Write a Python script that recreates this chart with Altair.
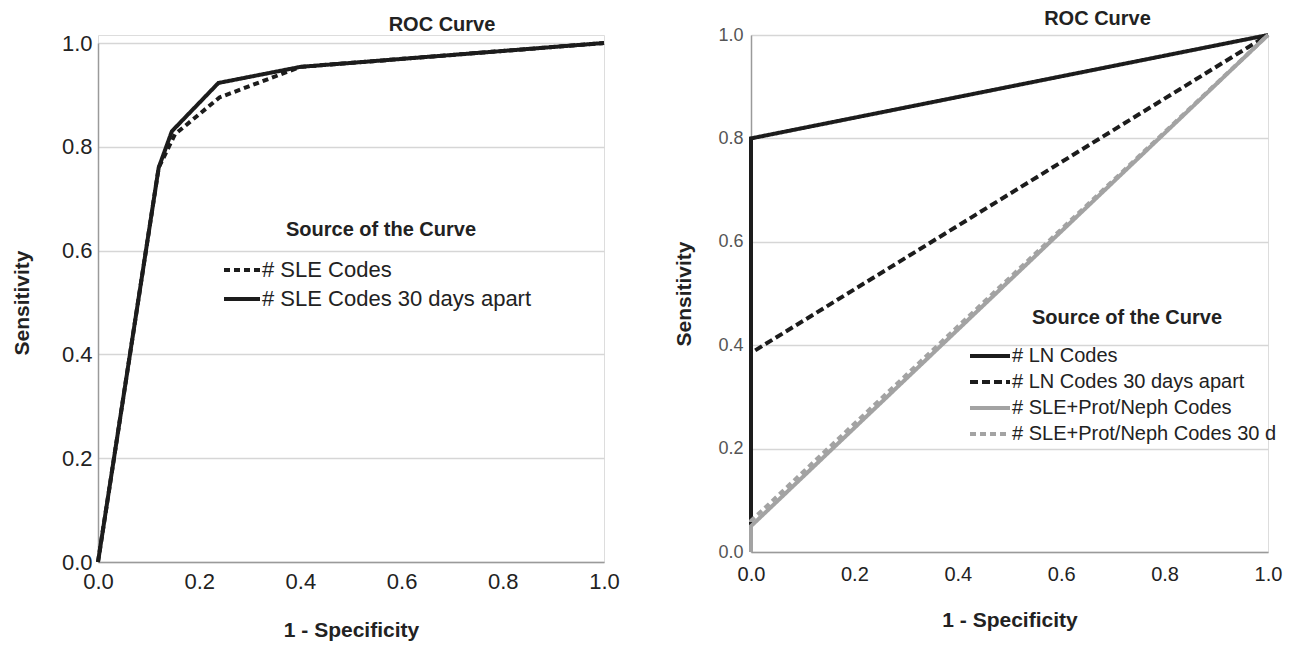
import altair as alt
import pandas as pd

FONT = "Liberation Sans"

# ---------------- Left panel data ----------------
left_series = ["# SLE Codes", "# SLE Codes 30 days apart"]
left_fpr_sle = [0.0, 0.12, 0.152, 0.24, 0.40, 1.0]
left_tpr_sle = [0.0, 0.76, 0.824, 0.895, 0.954, 1.0]
left_fpr_sle30 = [0.0, 0.12, 0.146, 0.238, 0.40, 1.0]
left_tpr_sle30 = [0.0, 0.76, 0.830, 0.923, 0.954, 1.0]

# ---------------- Right panel data ----------------
right_series = ["# LN Codes", "# LN Codes 30 days apart",
                "# SLE+Prot/Neph Codes", "# SLE+Prot/Neph Codes 30 days apart"]
right_fpr_ln = [0.0, 0.0, 1.0]
right_tpr_ln = [0.0, 0.80, 1.0]
right_fpr_ln30 = [0.0, 0.0, 1.0]
right_tpr_ln30 = [0.0, 0.385, 1.0]
right_fpr_pn = [0.0, 0.0, 1.0]
right_tpr_pn = [0.0, 0.05, 1.0]
right_fpr_pn30 = [0.0, 0.0, 1.0]
right_tpr_pn30 = [0.0, 0.06, 1.0]

tick_values = [0.0, 0.2, 0.4, 0.6, 0.8, 1.0]


def frame(name, fpr, tpr):
    return pd.DataFrame({"series": name, "fpr": fpr, "tpr": tpr, "ord": list(range(len(fpr)))})


df_left = pd.concat([
    frame(left_series[0], left_fpr_sle, left_tpr_sle),
    frame(left_series[1], left_fpr_sle30, left_tpr_sle30),
], ignore_index=True)

df_right = pd.concat([
    frame(right_series[0], right_fpr_ln, right_tpr_ln),
    frame(right_series[1], right_fpr_ln30, right_tpr_ln30),
    frame(right_series[2], right_fpr_pn, right_tpr_pn),
    frame(right_series[3], right_fpr_pn30, right_tpr_pn30),
], ignore_index=True)

BLACK = "#1c1c1c"
GRAY = "#a3a3a3"
GRID = "#d6d6d6"
DOMAIN = "#9a9a9a"

LEFT_H = 527      # left panel height; the y range leaves 8 px at the top
LEFT_TOP = 8


def make_legend(x, y, label_size, title_pad, row_pad, sym_size, label_offset):
    return alt.Legend(
        title="Source of the Curve", orient="none", legendX=x, legendY=y,
        titleFont=FONT, titleFontSize=20, titleFontWeight="bold", titleColor="#222",
        titleAnchor="middle", titlePadding=title_pad, titleLimit=600, padding=0,
        labelFont=FONT, labelFontSize=label_size, labelColor="#222", labelLimit=600,
        labelOffset=label_offset, rowPadding=row_pad,
        symbolType="M-2,0H2", symbolSize=sym_size, symbolStrokeWidth=4,
        labelExpr="substring(datum.label, 0, 26)",
    )


# ---------------- Left chart ----------------
leg_l = make_legend(133, 177 + LEFT_TOP, 22, 19, 7, 324, 9)
left = alt.Chart(df_left).mark_line(strokeWidth=4, strokeCap="butt").encode(
    x=alt.X("fpr:Q", scale=alt.Scale(domain=[0, 1], nice=False, zero=False),
            axis=alt.Axis(values=tick_values, format=".1f", title="1 - Specificity",
                          grid=False, ticks=False, tickSize=0, labelFlush=False,
                          labelFont=FONT, labelFontSize=22, labelColor="#222", labelPadding=9,
                          titleFont=FONT, titleFontSize=21, titleFontWeight="bold",
                          titleColor="#222", titlePadding=27,
                          domainColor=DOMAIN, domainWidth=1.5)),
    y=alt.Y("tpr:Q", scale=alt.Scale(domain=[0, 1], nice=False, zero=False,
                                     range=[LEFT_H, LEFT_TOP]),
            axis=alt.Axis(values=tick_values, format=".1f", title="Sensitivity",
                          grid=True, gridColor=GRID, gridWidth=1.5, ticks=False, tickSize=0,
                          labelFlush=False,
                          labelFont=FONT, labelFontSize=22, labelColor="#222", labelPadding=6,
                          titleFont=FONT, titleFontSize=21, titleFontWeight="bold",
                          titleColor="#222", titlePadding=29,
                          domainColor=DOMAIN, domainWidth=1.5)),
    color=alt.Color("series:N", scale=alt.Scale(domain=left_series, range=[BLACK, BLACK]),
                    legend=leg_l),
    strokeDash=alt.StrokeDash("series:N",
                              scale=alt.Scale(domain=left_series, range=[[6, 4], [1, 0]]),
                              legend=leg_l),
    order=alt.Order("ord:Q"),
).properties(
    width=506, height=LEFT_H,
    title=alt.TitleParams(text="ROC Curve", font=FONT, fontSize=20, fontWeight="bold",
                          color="#222", anchor="middle", dx=91, offset=-3,
                          frame="group"),
)

# ---------------- Right chart ----------------
leg_r = make_legend(227, 273, 20, 16, 4, 400, 10)
right = alt.Chart(df_right).mark_line(strokeWidth=4, strokeCap="butt").encode(
    x=alt.X("fpr:Q", scale=alt.Scale(domain=[0, 1], nice=False, zero=False),
            axis=alt.Axis(values=tick_values, format=".1f", title="1 - Specificity",
                          grid=False, ticks=False, tickSize=0, labelFlush=False,
                          labelFont=FONT, labelFontSize=20, labelColor="#222", labelPadding=12,
                          titleFont=FONT, titleFontSize=21, titleFontWeight="bold",
                          titleColor="#222", titlePadding=25,
                          domainColor=DOMAIN, domainWidth=1.5)),
    y=alt.Y("tpr:Q", scale=alt.Scale(domain=[0, 1], nice=False, zero=False),
            axis=alt.Axis(values=tick_values, format=".1f", title="Sensitivity",
                          grid=True, gridColor=GRID, gridWidth=1.5, ticks=False, tickSize=0,
                          labelFlush=False,
                          labelFont=FONT, labelFontSize=18, labelColor="#555", labelPadding=8,
                          titleFont=FONT, titleFontSize=21, titleFontWeight="bold",
                          titleColor="#222", titlePadding=23,
                          domainColor=DOMAIN, domainWidth=1.5)),
    color=alt.Color("series:N",
                    scale=alt.Scale(domain=right_series, range=[BLACK, BLACK, GRAY, GRAY]),
                    legend=leg_r),
    strokeDash=alt.StrokeDash("series:N",
                              scale=alt.Scale(domain=right_series,
                                              range=[[1, 0], [8, 4], [1, 0], [6, 4]]),
                              legend=leg_r),
    order=alt.Order("ord:Q"),
).properties(
    width=517, height=517,
    title=alt.TitleParams(text="ROC Curve", font=FONT, fontSize=20, fontWeight="bold",
                          color="#222", anchor="middle", dx=88, offset=-3, frame="group"),
)

chart = alt.hconcat(left, right, spacing=53).resolve_scale(
    color="independent", strokeDash="independent"
).resolve_legend(
    color="independent", strokeDash="independent"
).properties(
    padding={"left": 2, "top": 0, "right": 0, "bottom": 0}
).configure_view(stroke=None).configure(background="white")

chart.save("out.html", embed_options={"renderer": "svg", "actions": False})
